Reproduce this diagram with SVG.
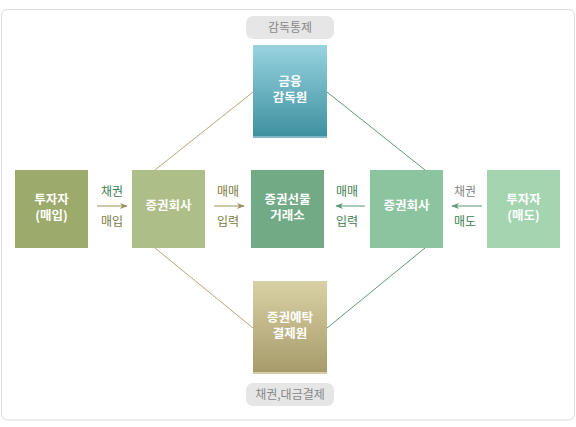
<svg xmlns="http://www.w3.org/2000/svg" width="576" height="427" viewBox="0 0 576 427">
<defs>
<linearGradient id="gBlue" x1="0" y1="0" x2="0" y2="1"><stop offset="0" stop-color="#99d3e0"/><stop offset="1" stop-color="#3d90a0"/></linearGradient>
<linearGradient id="gTan" x1="0" y1="0" x2="0" y2="1"><stop offset="0" stop-color="#d9d1a5"/><stop offset="1" stop-color="#a79b6b"/></linearGradient>
<marker id="aOl" viewBox="0 0 10 10" refX="9" refY="5" markerWidth="8" markerHeight="8" markerUnits="userSpaceOnUse" orient="auto"><path d="M0,1 L10,5 L0,9 L3,5 Z" fill="#9a9060"/></marker>
<marker id="aGr" viewBox="0 0 10 10" refX="9" refY="5" markerWidth="8" markerHeight="8" markerUnits="userSpaceOnUse" orient="auto"><path d="M0,1 L10,5 L0,9 L3,5 Z" fill="#5a9a72"/></marker>
</defs>
<style>
text{font-family:"Noto Sans CJK KR","Noto Sans",sans-serif;text-anchor:middle}
.bl{fill:#fff;font-size:12.5px;font-weight:bold}
.pill{fill:#e6e6e6}
.pt{fill:#888;font-size:12px}
.lb{font-size:12px}
.ol{fill:#7a7a42}
.gr{fill:#3e8052}
.gy{fill:#858585}
</style>
<rect x="1.5" y="9.5" width="573" height="410.5" rx="6" fill="#fff" stroke="#dcdcdc"/>
<g id="connectors" fill="none" stroke-width="1">
<line x1="253" y1="92" x2="155" y2="170" stroke="#b4a67a"/>
<line x1="155" y1="248" x2="253" y2="328" stroke="#b4a67a"/>
<line x1="327" y1="92" x2="425" y2="170" stroke="#5e9a72"/>
<line x1="425" y1="248" x2="327" y2="328" stroke="#5e9a72"/>
<line x1="97" y1="206" x2="127" y2="206" stroke="#9a9060" marker-end="url(#aOl)"/>
<line x1="214" y1="206" x2="244" y2="206" stroke="#9a9060" marker-end="url(#aOl)"/>
<line x1="365" y1="206" x2="336" y2="206" stroke="#5a9a72" marker-end="url(#aGr)"/>
<line x1="482" y1="206" x2="452" y2="206" stroke="#5a9a72" marker-end="url(#aGr)"/>
</g>
<g id="label-top"><rect class="pill" x="246" y="16" width="88" height="23" rx="7"/><text class="pt" x="290" y="32">감독통제</text></g>
<g id="fss"><rect x="253" y="45" width="74" height="92" fill="url(#gBlue)"/><rect x="253" y="136" width="74" height="2" fill="#7fb8c4"/><text class="bl" x="290" y="86">금융</text><text class="bl" x="290" y="102">감독원</text></g>
<g id="investor-buy"><rect x="15" y="170" width="73" height="78" fill="#9caa6c"/><text class="bl" x="51.5" y="204">투자자</text><text class="bl" x="51.5" y="220">(매입)</text></g>
<g id="broker-left"><rect x="132" y="170" width="73" height="78" fill="#aebe88"/><text class="bl" x="168.5" y="210">증권회사</text></g>
<g id="exchange"><rect x="251" y="170" width="73" height="78" fill="#72aa86"/><text class="bl" x="287.5" y="204">증권선물</text><text class="bl" x="287.5" y="220">거래소</text></g>
<g id="broker-right"><rect x="370" y="170" width="73" height="78" fill="#8cc4a0"/><text class="bl" x="406.5" y="210">증권회사</text></g>
<g id="investor-sell"><rect x="487" y="170" width="73" height="78" fill="#a4d4b0"/><text class="bl" x="523.5" y="204">투자자</text><text class="bl" x="523.5" y="220">(매도)</text></g>
<g id="ksd"><rect x="253" y="281" width="74" height="91" fill="url(#gTan)"/><rect x="253" y="372" width="74" height="2" fill="#d6ceac"/><text class="bl" x="290" y="322">증권예탁</text><text class="bl" x="290" y="338">결제원</text></g>
<g id="label-bottom"><rect class="pill" x="246" y="383" width="88" height="23" rx="7"/><text class="pt" x="290" y="399">채권,대금결제</text></g>
<g id="edge-labels">
<text class="lb gr" x="112" y="196">채권</text><text class="lb ol" x="112" y="226">매입</text>
<text class="lb ol" x="228" y="196">매매</text><text class="lb ol" x="228" y="226">입력</text>
<text class="lb gr" x="347" y="196">매매</text><text class="lb gr" x="347" y="226">입력</text>
<text class="lb gy" x="465" y="196">채권</text><text class="lb gr" x="465" y="226">매도</text>
</g>
</svg>
